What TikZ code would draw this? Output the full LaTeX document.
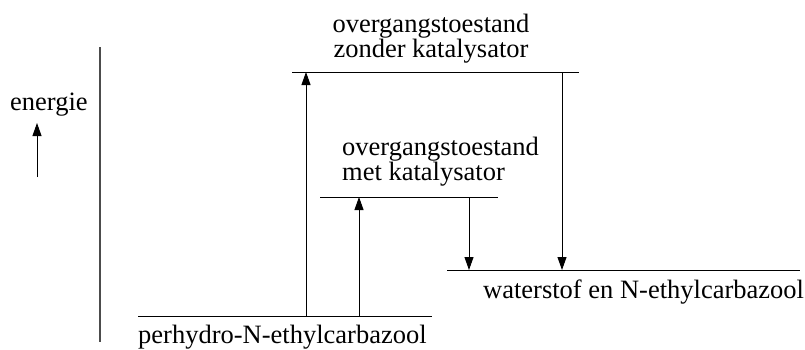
\documentclass[tikz,border=0pt]{standalone}
\usepackage{fontspec}
\setmainfont{Liberation Serif}
\usetikzlibrary{arrows.meta}

\begin{document}
\begin{tikzpicture}[x=1pt, y=-1pt, font=\fontsize{26.5}{25}\selectfont,
  level/.style={black, line width=1pt},
  pijl/.style={black, line width=0.9pt, -{Triangle[length=13pt, width=9pt]}}]
  \useasboundingbox (0,0) rectangle (805,349);
  \coordinate (asA) at (100,47);
  \coordinate (asB) at (100,342);
  \coordinate (eA) at (37,177);
  \coordinate (eB) at (37,123);
  \coordinate (pA) at (138,316);
  \coordinate (pB) at (432,316);
  \coordinate (zA) at (292,72);
  \coordinate (zB) at (579,72);
  \coordinate (mA) at (320,197);
  \coordinate (mB) at (498,197);
  \coordinate (wA) at (447,270);
  \coordinate (wB) at (800,270);
  \coordinate (up1a) at (306,316);
  \coordinate (up1b) at (306,72);
  \coordinate (up2a) at (359,316);
  \coordinate (up2b) at (359,197);
  \coordinate (dn1a) at (469,197);
  \coordinate (dn1b) at (469,270);
  \coordinate (dn2a) at (562,72);
  \coordinate (dn2b) at (562,270);
  \node[anchor=base west, inner sep=0pt] (energie) at (10,110) {energie};
  \node[anchor=base, inner sep=0pt, align=center] (zonder) at (431,57) {overgangstoestand\\zonder katalysator};
  \node[anchor=base west, inner sep=0pt, align=left] (met) at (342,180) {overgangstoestand\\met katalysator};
  \node[anchor=base west, inner sep=0pt] (water) at (483,298) {waterstof en N-ethylcarbazool};
  \node[anchor=base west, inner sep=0pt] (perhydro) at (138,343) {perhydro-N-ethylcarbazool};
  \draw[black!70, line width=1.3pt] (asA) -- (asB);
  \draw[pijl] (eA) -- (eB);
  \draw[level] (pA) -- (pB);
  \draw[level] (zA) -- (zB);
  \draw[level] (mA) -- (mB);
  \draw[level] (wA) -- (wB);
  \draw[pijl] (up1a) -- (up1b);
  \draw[pijl] (up2a) -- (up2b);
  \draw[pijl] (dn1a) -- (dn1b);
  \draw[pijl] (dn2a) -- (dn2b);
\end{tikzpicture}
\end{document}
